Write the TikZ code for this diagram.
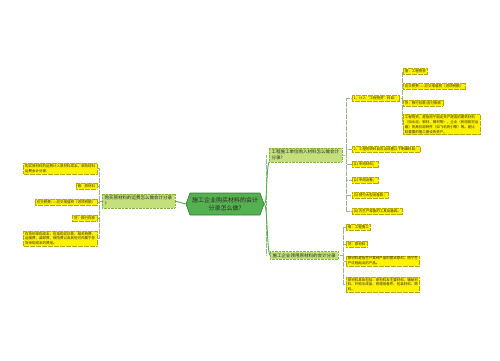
\documentclass[tikz,border=0pt]{standalone}
\usepackage{fontspec}
\newfontfamily\cjk{Noto Sans CJK SC}
\usetikzlibrary{shapes.symbols}
\definecolor{leafyellow}{HTML}{FFF200}
\definecolor{leafborder}{HTML}{B8A800}
\definecolor{midfill}{HTML}{C3E07C}
\definecolor{midborder}{HTML}{7FB33A}
\definecolor{rootfill}{HTML}{55B04F}
\definecolor{rootborder}{HTML}{2F7D32}
\definecolor{connc}{HTML}{9DB38A}
\definecolor{branchc}{HTML}{4CAF50}
\definecolor{txt}{HTML}{2A2A2A}
\newcommand\leaffont{\cjk\fontsize{3.5}{4.8}\selectfont}
\newcommand\midfont{\cjk\fontsize{4.5}{6}\selectfont}
\newcommand\rootfont{\cjk\fontsize{6}{8}\selectfont}
\begin{document}
\begin{tikzpicture}[x=1pt,y=-1pt,
  leaf/.style={draw=leafborder, dash pattern=on 0.7pt off 0.5pt, line width=0.35pt,
    fill=leafyellow, text=txt, inner xsep=1.6pt, inner ysep=1.3pt, font=\leaffont, align=left},
  mid/.style={draw=midborder, dash pattern=on 0.8pt off 0.6pt, line width=0.4pt,
    fill=midfill, text=txt, inner xsep=2.5pt, inner ysep=1.8pt, font=\midfont, align=left},
  rootbox/.style={shape=signal, signal to=west and east, signal pointer angle=140,
    draw=rootborder, line width=0.6pt, fill=rootfill, text=txt, font=\rootfont, align=center,
    minimum width=76pt, minimum height=22pt, inner xsep=2pt, inner ysep=2pt},
  conn/.style={draw=connc, line width=0.4pt, dash pattern=on 0.6pt off 0.6pt},
  branch/.style={draw=branchc, line width=0.9pt}
]
\useasboundingbox (0,0) rectangle (500,360);

% root
\node[rootbox] (root) at (225,204) {施工企业购买材料的会计\\分录怎么做?};

% left branch
\node[mid, anchor=west] (L) at (102,201) {购买原材料的运费怎么做会计分录\\?};
\node[leaf, anchor=east] (la) at (97,168.5) {购买原材料的运费计入原材料成本。采购材料\\运费会计分录：};
\node[leaf, anchor=east] (lb) at (97,186) {借：原材料};
\node[leaf, anchor=east] (lc) at (97,202) {应交税费——应交增值税（进项税额）};
\node[leaf, anchor=east] (ld) at (97,218) {贷：银行存款};
\node[leaf, anchor=east] (le) at (97,238.5) {存货的采购成本，包括购买价款、相关税费、\\运输费、装卸费、保险费以及其他可归属于存\\货采购成本的费用。};

\draw[branch] (root.west) -- (L.east);
\draw[conn] (L.west) -- ++(-2.5,0) coordinate (spL);
\foreach \n in {la,lb,lc,ld,le} \draw[conn] (spL) |- (\n.east);

% right top branch
\node[mid, anchor=west] (RT) at (269,155) {工程施工单位购入材料怎么做会计\\分录?};
\node[mid, anchor=west] (RB) at (270,255.5) {施工企业领用原材料的会计分录};

\draw[conn] (RT.west) ++(-2.5,0) coordinate (spR) -- (RB.west -| spR);
\draw[branch] (root.east) .. controls +(3,0) and +(-3,8) .. (RT.south west);
\draw[branch] (root.east) .. controls +(3,0) and +(-3,-4) .. (RB.west);

\node[leaf, anchor=west] (r1) at (352,98.5) {1、计入“工程物资”科目：};
\node[leaf, anchor=west] (r2) at (352,149.5) {2、工程物资科目应当设置以下明细科目：};
\node[leaf, anchor=west] (r3) at (352,164) {(1) 专用材料；};
\node[leaf, anchor=west] (r4) at (352,180) {(2) 专用设备；};
\node[leaf, anchor=west] (r5) at (352,195) {(3) 预付大型设备款；};
\node[leaf, anchor=west] (r6) at (352,211.5) {(4) 为生产准备的工具及器具。};

\draw[conn] (RT.east) -- ++(4,0) coordinate (spRT);
\foreach \n in {r1,r2,r3,r4,r5,r6} \draw[conn] (spRT) |- (\n.west);

\node[leaf, anchor=west] (s1) at (403,71.5) {借：工程物资};
\node[leaf, anchor=west] (s2) at (403,86.5) {应交税费——应交增值税（进项税额）};
\node[leaf, anchor=west] (s3) at (403,103) {贷：银行存款/应付账款};
\node[leaf, anchor=west] (s4) at (403,124.5) {工程物资，是指用于固定资产建造的建筑材料\\（如水泥、钢材、钢材等），企业（民用航空运\\输）的高价周转件（如飞机的引擎）等。是比\\较重要的施工建设的资产。};

\draw[conn] (r1.east) -- ++(3,0) coordinate (spR1);
\foreach \n in {s1,s2,s3,s4} \draw[conn] (spR1) |- (\n.west);

% right bottom branch
\node[leaf, anchor=west] (b1) at (346,227.5) {借：工程施工};
\node[leaf, anchor=west] (b2) at (346,244) {贷：原材料};
\node[leaf, anchor=west] (b3) at (346,261) {原材料是指生产某种产品的基本原料，用于生\\产过程起点的产品。};
\node[leaf, anchor=west] (b4) at (346,284.5) {原材料具体包括：原材料及主要材料、辅助材\\料、外购半成品、修理用备件、包装材料、燃\\料。};

\draw[conn] (RB.east) -- ++(5,0) coordinate (spRB);
\foreach \n in {b1,b2,b3,b4} \draw[conn] (spRB) |- (\n.west);
\end{tikzpicture}
\end{document}
